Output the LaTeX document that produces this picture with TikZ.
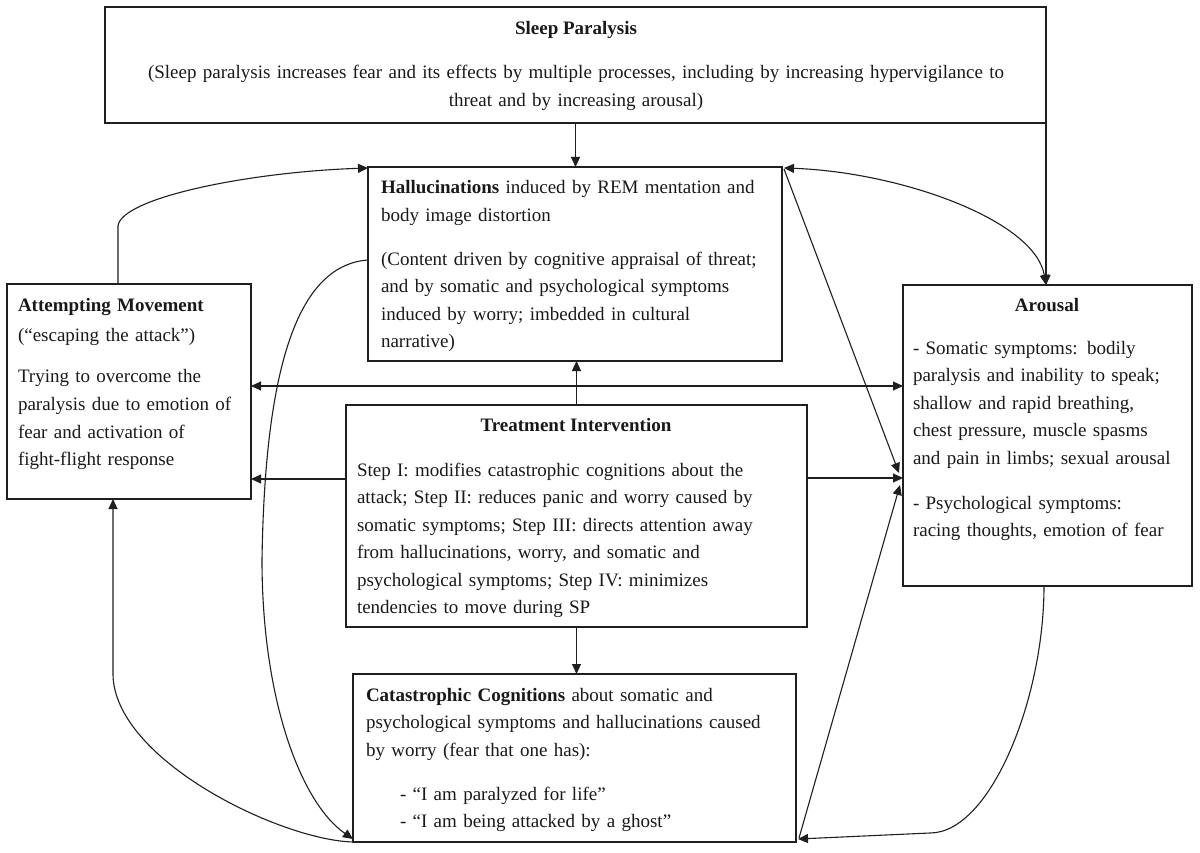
\documentclass[tikz,border=0pt]{standalone}
\usepackage{fontspec}
\setmainfont{Liberation Serif}
\usetikzlibrary{arrows.meta,calc}
\tikzset{
  box/.style={draw=black!88, line width=1.6pt, rectangle, inner sep=0pt, outer sep=0pt, anchor=north west},
  txt/.style={inner sep=0pt, outer sep=0pt, align=left, font=\fontsize{19}{27.5}\selectfont, text=black!90},
  ttl/.style={inner sep=0pt, outer sep=0pt, font=\fontsize{19}{27.5}\selectfont\bfseries, text=black!90},
  conn/.style={draw=black!88, line width=1.1pt},
  tip/.tip={Triangle[length=10pt,width=9pt]}
}
\begin{document}
\begin{tikzpicture}[x=1pt,y=-1pt]
\useasboundingbox (0,0) rectangle (1200,853);
% boxes
\node[box, minimum width=941, minimum height=116] (sp) at (105,7) {};
\node[box, minimum width=414, minimum height=194] (hall) at (368,167) {};
\node[box, minimum width=244, minimum height=215] (am) at (7,284) {};
\node[box, minimum width=289, minimum height=301] (ar) at (903,285) {};
\node[box, minimum width=461, minimum height=222] (tr) at (346,405) {};
\node[box, minimum width=443, minimum height=168] (cc) at (353,674) {};
% texts
\node[ttl, anchor=base] (sptitle) at (576,35) {Sleep Paralysis};
\node[txt, align=center, text width=920, anchor=base] (sptext) at (576,79)
  {(Sleep paralysis increases fear and its effects by multiple processes, including by increasing hypervigilance to\\
   threat and by increasing arousal)};
\node[txt, text width=396, anchor=base west] (halltext) at (381,194)
  {\textbf{Hallucinations} induced by REM mentation and\\
   body image distortion\\[16.5pt]
   (Content driven by cognitive appraisal of threat;\\
   and by somatic and psychological symptoms\\
   induced by worry; imbedded in cultural\\
   narrative)};
\node[txt, text width=228, anchor=base west] (amtext) at (18,311)
  {\textbf{Attempting Movement}\\[2.5pt]
   (“escaping the attack”)\\[14.5pt]
   Trying to overcome the\\
   paralysis due to emotion of\\
   fear and activation of\\
   fight-flight response};
\node[ttl, anchor=base] (artitle) at (1047,311) {Arousal};
\node[txt, text width=275, anchor=base west] (artext) at (913,354)
  {- Somatic symptoms: bodily\\
   paralysis and inability to speak;\\
   shallow and rapid breathing,\\
   chest pressure, muscle spasms\\
   and pain in limbs; sexual arousal\\[17.5pt]
   - Psychological symptoms:\\
   racing thoughts, emotion of fear};
\node[ttl, anchor=base] (trtitle) at (576,431) {Treatment Intervention};
\node[txt, text width=445, anchor=base west] (trtext) at (357,476)
  {Step I: modifies catastrophic cognitions about the\\
   attack; Step II: reduces panic and worry caused by\\
   somatic symptoms; Step III: directs attention away\\
   from hallucinations, worry, and somatic and\\
   psychological symptoms; Step IV: minimizes\\
   tendencies to move during SP};
\node[txt, text width=425, anchor=base west] (cctext) at (366,701)
  {\textbf{Catastrophic Cognitions} about somatic and\\
   psychological symptoms and hallucinations caused\\
   by worry (fear that one has):\\[16.5pt]
   \hspace*{34pt}- “I am paralyzed for life”\\
   \hspace*{34pt}- “I am being attacked by a ghost”};
% connector points
\coordinate (amtop) at ($(am.north west)+(111,0)$);
\coordinate (ambot) at ($(am.south west)+(106,0)$);
\coordinate (hallleft) at ($(hall.north west)+(0,93)$);
\coordinate (trl) at ($(tr.north west)+(0,74)$);
\coordinate (trr) at ($(tr.north east)+(0,73)$);
\coordinate (mid) at ($(am.north east)+(0,102)$);
\coordinate (arbot) at ($(ar.south west)+(141,0)$);
\coordinate (ccse) at ($(cc.south east)+(2,-3)$);
\coordinate (ccsw) at ($(cc.south west)+(0,-3)$);
% connectors
\draw[conn,-tip] (sp.south) -- (sp.south |- hall.north);
\draw[conn,-tip] (sp.south east) -- (sp.south east |- ar.north);
\draw[conn,tip-tip] ($(hall.north east)+(2,1)$) .. controls (900,172) and (1035,220) .. ($(sp.south east |- ar.north)$);
\draw[conn,-tip] (amtop) -- ++(0,-58) .. controls +(3,-28) and +(-120,4) .. ($(hall.north west)+(0,1)$);
\draw[conn,-tip] (hallleft) .. controls +(-68,5) and +(3,-200) .. (262,560) .. controls +(0,140) and +(-52,-36) .. (ccsw);
\draw[conn,-tip] ($(cc.south west)+(0,0)$) .. controls +(-73,-2) and +(2,85) .. ($(ambot)+(0,176)$) -- (ambot);
\draw[conn,-tip] (arbot) .. controls +(0,114) and +(60,0) .. (930,833) -- (ccse);
\draw[conn,-tip] ($(cc.south east)+(3,-4)$) -- ($(ar.north west)+(-3,200)$);
\draw[conn,-tip] ($(hall.north east)+(2,2)$) -- ($(ar.north west)+(-4,188)$);
\draw[conn,tip-tip] (mid) -- (mid -| ar.west);
\draw[conn,-tip] (tr.north) -- (tr.north |- hall.south);
\draw[conn,-tip] (trl) -- (trl -| am.east);
\draw[conn,-tip] (trr) -- (trr -| ar.west);
\draw[conn,-tip] (tr.south) -- (tr.south |- cc.north);
\end{tikzpicture}
\end{document}
